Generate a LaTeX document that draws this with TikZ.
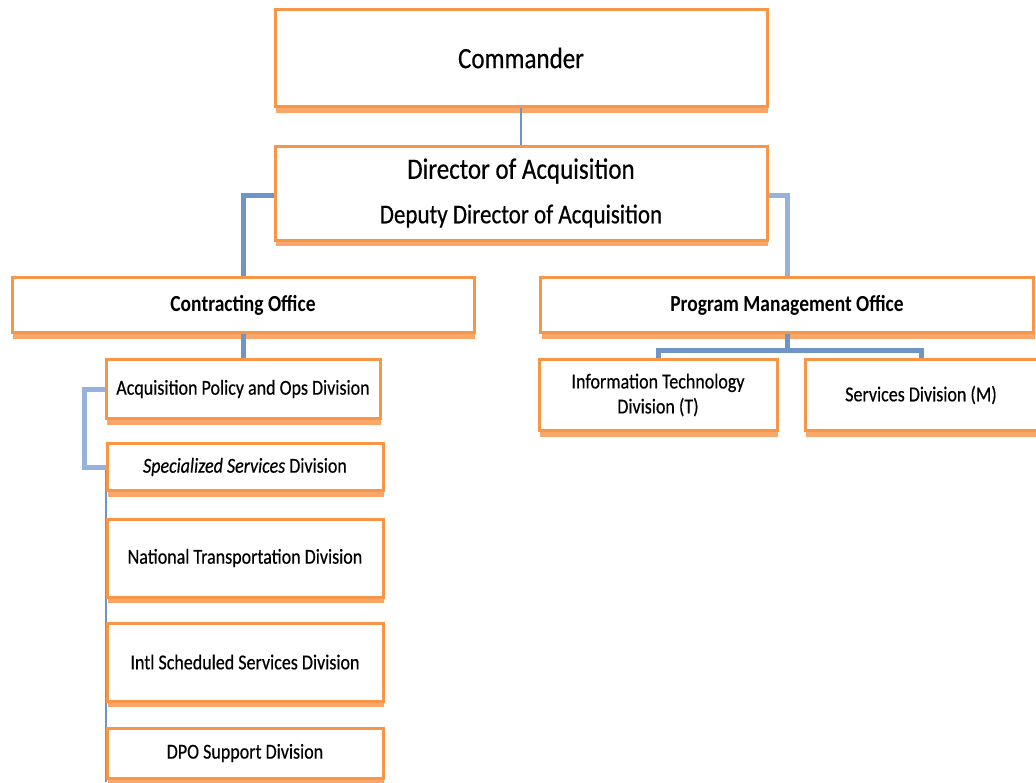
\documentclass[tikz,border=0pt]{standalone}
\usepackage{fontspec}
\usepackage{graphicx}
\setmainfont{Carlito}
\newfontfamily\heavyfont{Carlito}[FakeBold=0.5]
\usetikzlibrary{shadows}

\definecolor{boxorange}{HTML}{F79646}
\definecolor{shadeorange}{HTML}{F8A769}
\definecolor{linkblue}{HTML}{6F95C8}
\definecolor{linklight}{HTML}{94B2DC}

% labels are set a little taller than the face's natural proportions
\newcommand{\tallword}[1]{\scalebox{1}[1.18]{#1}}

\tikzset{
  unit/.style={draw=boxorange, line width=3pt, fill=white, inner sep=2pt,
    align=center, text=black,
    drop shadow={shadow xshift=1pt, shadow yshift=-6pt, fill=shadeorange, opacity=1}},
  link/.style={draw=linkblue, line width=5pt},
  lightlink/.style={draw=linklight, line width=5pt},
  thinlink/.style={draw=linkblue, line width=1.3pt},
  divtext/.style={font=\heavyfont\fontsize{18}{21}\selectfont},
  officetext/.style={font=\bfseries\fontsize{19.5}{23}\selectfont},
}

\begin{document}
\begin{tikzpicture}[x=1pt, y=-1pt]
\useasboundingbox (0,0) rectangle (1036,782);
\fill[white] (0,0) rectangle (1036,782);

% thin spine along the left edge of the lower divisions (behind the boxes)
\coordinate (spinetop) at (106,466);
\coordinate (spinebot) at (106,782);
\draw[thinlink] (spinetop) -- (spinebot);

% top of the chain
\node[unit, minimum width=492pt, minimum height=97pt, font=\heavyfont\fontsize{25}{30}\selectfont]
  (cmd) at (521,58) {\tallword{Commander}};
\node[unit, minimum width=492pt, minimum height=94pt, font=\heavyfont] (dir) at (521,193)
  {{\fontsize{25}{30}\selectfont \tallword{Director of Acquisition}}\\[20pt]
   {\fontsize{23}{27}\selectfont \tallword{Deputy Director of Acquisition}}};

% the two offices
\node[unit, officetext, minimum width=462pt, minimum height=55pt] (co) at (243,305) {\tallword{Contracting Office}};
\node[unit, officetext, minimum width=493pt, minimum height=55pt] (pmo) at (787,305) {\tallword{Program Management Office}};

% contracting divisions
\node[unit, divtext, minimum width=274pt, minimum height=59pt] (apo) at (243,389) {\tallword{Acquisition Policy and Ops Division}};
\node[unit, divtext, minimum width=276pt, minimum height=47pt] (ssd) at (245,467) {\tallword{\textit{Specialized Services} Division}};
\node[unit, divtext, minimum width=276pt, minimum height=78pt] (ntd) at (245,558) {\tallword{National Transportation Division}};
\node[unit, divtext, minimum width=276pt, minimum height=78pt] (isd) at (245,662) {\tallword{Intl Scheduled Services Division}};
\node[unit, divtext, minimum width=276pt, minimum height=50pt] (dpo) at (245,753) {\tallword{DPO Support Division}};

% program management divisions
\node[unit, divtext, minimum width=238pt, minimum height=71pt] (itd) at (658,395)
  {\tallword{Information Technology}\\[4pt]\tallword{Division (T)}};
\node[unit, divtext, minimum width=232pt, minimum height=71pt] (svd) at (921,395) {\tallword{Services Division (M)}};

% connectors
\coordinate (leftelbow) at (243,195);
\coordinate (rightelbow) at (787,195);
\coordinate (bracket) at (84,389);
\draw[link, line width=2.5pt] (cmd.south) -- (dir.north);
\draw[link] (dir.west |- leftelbow) -- (leftelbow) -- (co.north);
\draw[lightlink] (dir.east |- rightelbow) -- (rightelbow) -- (pmo.north);
\draw[link] (co.south) -- (apo.north);
\draw[lightlink] (apo.west) -- (bracket) -- (bracket |- ssd.west) -- (ssd.west);
\draw[link] (pmo.south) -- ++(0,16) coordinate (bar);
\draw[link] (itd.north) -- (itd.north |- bar) -- (svd.north |- bar) -- (svd.north);
\end{tikzpicture}
\end{document}
